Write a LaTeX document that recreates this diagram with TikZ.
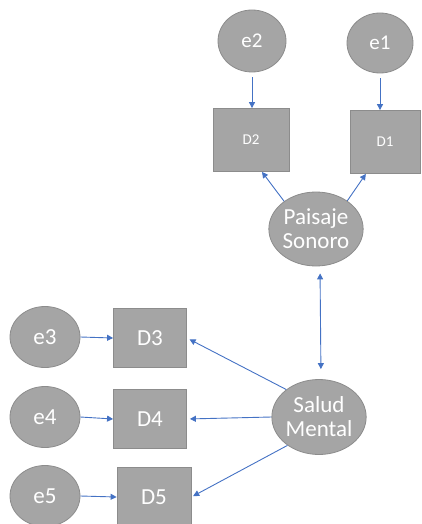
\documentclass[tikz,border=0pt]{standalone}
\usepackage{fontspec}
\setmainfont{Carlito}
\usetikzlibrary{arrows.meta}
\definecolor{nodefill}{HTML}{A5A5A5}
\definecolor{nodeline}{HTML}{8C8C8C}
\definecolor{arrowblue}{HTML}{4472C4}
\tikzset{
  latent/.style={ellipse, draw=nodeline, fill=nodefill, line width=0.8pt, inner sep=0pt, text=white, font=\fontsize{23}{24}\selectfont, align=center},
  toplatent/.style={latent, font=\fontsize{21}{24}\selectfont},
  obsbox/.style={rectangle, draw=nodeline, fill=nodefill, line width=0.8pt, inner sep=0pt, text=white, font=\fontsize{23}{24}\selectfont},
  smallobs/.style={obsbox, font=\fontsize{15}{18}\selectfont},
  conn/.style={draw=arrowblue, line width=0.9pt, -{Triangle[length=6pt,width=6pt]}},
  dconn/.style={draw=arrowblue, line width=0.9pt, {Triangle[length=6pt,width=6pt]}-{Triangle[length=6pt,width=6pt]}}
}
\usetikzlibrary{shapes.geometric}
\begin{document}
\begin{tikzpicture}[x=1pt,y=-1pt]
\useasboundingbox (0,0) rectangle (422,524);
% upper part
\node[toplatent, minimum width=68pt, minimum height=62pt] (e2) at (252,41) {e2};
\node[toplatent, minimum width=66pt, minimum height=60pt] (e1) at (380,43) {e1};
\node[smallobs, minimum width=76pt, minimum height=63pt] (D2) at (251,140) {D2};
\node[smallobs, minimum width=70pt, minimum height=63pt] (D1) at (385,142) {D1};
\node[latent, minimum width=90pt, minimum height=74pt] (Pa) at (316,229) {Paisaje\\Sonoro};
% lower part
\node[latent, minimum width=88pt, minimum height=75pt] (Sa) at (319,417) {Salud\\Mental};
\node[latent, minimum width=70pt, minimum height=61pt] (e3) at (45,337) {e3};
\node[latent, minimum width=70pt, minimum height=61pt] (e4) at (45,417) {e4};
\node[latent, minimum width=70pt, minimum height=61pt] (e5) at (45,496) {e5};
\node[obsbox, minimum width=73pt, minimum height=59pt] (D3) at (150,338) {D3};
\node[obsbox, minimum width=73pt, minimum height=59pt] (D4) at (150,419) {D4};
\node[obsbox, minimum width=74pt, minimum height=59pt] (D5) at (154,497) {D5};
% connectors
\draw[conn, shorten <=5pt] (e2.south) -- (e2.south |- D2.north);
\draw[conn, shorten <=5pt] (e1.south) -- (e1.south |- D1.north);
\draw[conn] (Pa.139) -- (D2.-71);
\draw[conn] (Pa.42) -- (D1.-121);
\draw[dconn, shorten <=7pt, shorten >=10pt] ([xshift=4pt]Pa.south) -- ([xshift=2pt]Sa.north);
\draw[conn] (e3.east) -- (D3.west);
\draw[conn] (e4.east) -- (D4.west);
\draw[conn] (e5.east) -- (D5.west);
\draw[conn, shorten >=3pt] (Sa.140) -- (D3.east);
\draw[conn, shorten >=3pt] (Sa.west) -- (D4.east);
\draw[conn, shorten >=2pt] (Sa.222) -- (D5.east);
\end{tikzpicture}
\end{document}
